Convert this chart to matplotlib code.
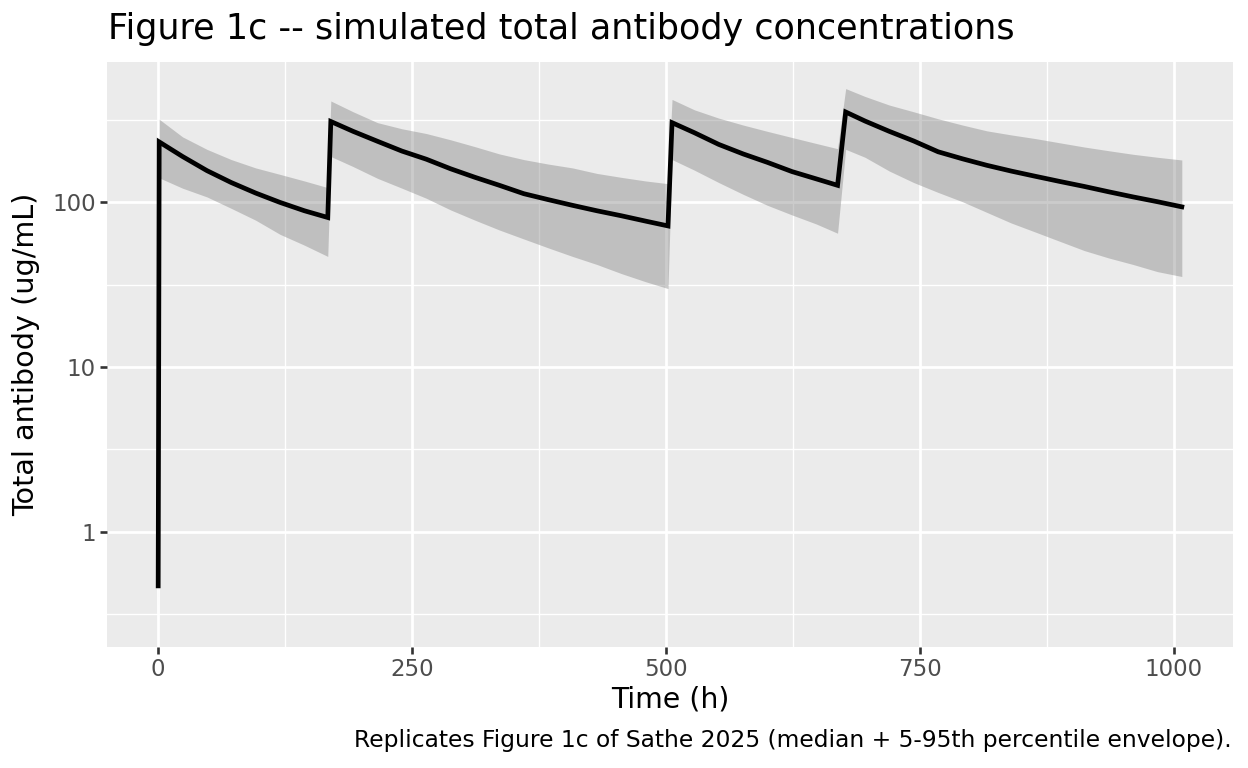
import numpy as np
import matplotlib
matplotlib.use("Agg")
import matplotlib.pyplot as plt
from matplotlib.ticker import FixedLocator, NullFormatter

plt.rcParams['font.family'] = ['DejaVu Sans']

# ---- data ----
time_h = [0, 1, 24, 48, 72, 96, 120, 144, 167,
          170, 192, 216, 240, 264, 288, 312, 336, 360, 384, 408, 432, 456, 480, 502,
          506, 528, 552, 576, 600, 624, 648, 669,
          677, 696, 720, 744, 768, 792, 816, 840, 864, 888, 912, 936, 960, 984, 1008]
median_conc = [0.47, 233, 190, 156, 132, 114, 100, 89, 81,
               310, 270, 235, 205, 183, 160, 142, 127, 113, 104, 96, 89, 83, 77, 72,
               305, 265, 225, 197, 175, 154, 139, 127,
               354, 312, 270, 236, 203, 184, 168, 155, 144, 134, 125, 116, 108, 101, 94]
p05_conc = [0.29, 141, 122, 108, 92, 78, 64, 55, 47,
            190, 165, 140, 122, 106, 90, 78, 68, 60, 53, 47, 42, 37, 33, 30,
            182, 157, 132, 112, 96, 84, 74, 65,
            210, 188, 155, 132, 115, 101, 87, 75, 66, 58, 51, 46, 42, 38, 35.5]
p95_conc = [0.75, 320, 250, 210, 182, 162, 148, 135, 123,
            413, 355, 305, 280, 262, 240, 218, 197, 182, 171, 162, 150, 142, 135, 130,
            422, 365, 325, 295, 270, 248, 228, 212,
            491, 440, 390, 355, 322, 295, 272, 257, 244, 230, 217, 206, 196, 188, 181]

x_breaks = [0, 250, 500, 750, 1000]
x_minor = [125, 375, 625, 875]
y_breaks = [1, 10, 100]
y_labels = ["1", "10", "100"]

title = "Figure 1c -- simulated total antibody concentrations"
xlab = "Time (h)"
ylab = "Total antibody (ug/mL)"
caption = "Replicates Figure 1c of Sathe 2025 (median + 5-95th percentile envelope)."

# ---- figure ----
W, H = 1248, 768
fig = plt.figure(figsize=(W / 100, H / 100), dpi=100)
L, R, T, B = 107, 1233, 62, 647
ax = fig.add_axes([L / W, 1 - B / H, (R - L) / W, (B - T) / H])
ax.set_facecolor('#EBEBEB')
for s in ax.spines.values():
    s.set_visible(False)

ax.set_yscale('log')

# grid
ax.set_axisbelow(True)
ax.xaxis.set_major_locator(FixedLocator(x_breaks))
ax.xaxis.set_minor_locator(FixedLocator(x_minor))
ax.yaxis.set_major_locator(FixedLocator(y_breaks))
ymin_d = min(p05_conc + median_conc)
ymax_d = max(p95_conc + median_conc)
lo, hi = np.log10(ymin_d), np.log10(ymax_d)
ax.yaxis.set_minor_locator(FixedLocator([10 ** (k + 0.5) for k in range(int(np.floor(lo)) - 1, int(np.ceil(hi)) + 1)]))
ax.yaxis.set_minor_formatter(NullFormatter())
ax.set_yticklabels(y_labels)
ax.set_xticklabels([str(v) for v in x_breaks])
ax.grid(which='major', color='white', linewidth=1.95)
ax.grid(which='minor', color='white', linewidth=0.98)
ax.tick_params(which='minor', length=0)
ax.tick_params(which='major', length=5, width=1.9, color='#333333',
               labelcolor='#4D4D4D', labelsize=16.5, pad=3.2)

# data
ax.fill_between(time_h, p05_conc, p95_conc, color='#7F7F7F', alpha=0.4, linewidth=0)
ax.plot(time_h, median_conc, color='black', linewidth=3.4, solid_joinstyle='miter')

# limits (ggplot-like 5% expansion)
tx = max(time_h) - min(time_h)
ax.set_xlim(min(time_h) - 0.05 * tx, max(time_h) + 0.05 * tx)
r = hi - lo
ax.set_ylim(10 ** (lo - 0.05 * r), 10 ** (hi + 0.05 * r))

# labels
ax.set_xlabel(xlab, fontsize=20.4, color='black')
ax.xaxis.label.set_va('baseline')
ax.xaxis.set_label_coords(0.5, (B - 707.5) / (B - T))
ax.set_ylabel(ylab, fontsize=20.6, color='black')
ax.yaxis.label.set_va('center')
ax.yaxis.set_label_coords((26 - L) / (R - L), 0.5)

fig.text(L / W + 0.001, 1 - 39.5 / H, title, fontsize=25.2, ha='left', va='baseline', color='black')
fig.text(1232 / W, 1 - 747.5 / H, caption, fontsize=16.8, ha='right', va='baseline', color='black')

fig.savefig('out.png', dpi=100, facecolor='white')
